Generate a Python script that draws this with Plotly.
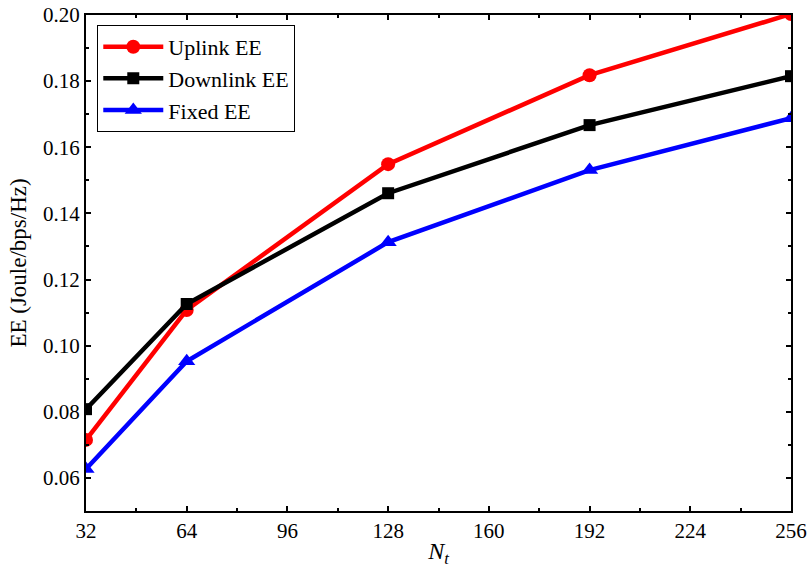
import plotly.graph_objects as go

nt = [32, 64, 128, 192, 256]
uplink = [0.0715, 0.1108, 0.1549, 0.1818, 0.2003]
downlink = [0.0808, 0.1126, 0.1461, 0.1667, 0.1815]
fixed = [0.0627, 0.0953, 0.1313, 0.1531, 0.1688]
x_ticks = [32, 64, 96, 128, 160, 192, 224, 256]
y_ticks = [0.06, 0.08, 0.10, 0.12, 0.14, 0.16, 0.18, 0.20]

FONT = "Liberation Serif"

fig = go.Figure()
fig.add_trace(go.Scatter(x=nt, y=uplink, name="Uplink EE", mode="lines+markers",
                         line=dict(color="#ff0000", width=4.5),
                         marker=dict(symbol="circle", size=14, color="#ff0000")))
fig.add_trace(go.Scatter(x=nt, y=downlink, name="Downlink EE", mode="lines+markers",
                         line=dict(color="#000000", width=4.5),
                         marker=dict(symbol="square", size=12, color="#000000")))
fig.add_trace(go.Scatter(x=nt, y=fixed, name="Fixed EE", mode="lines+markers",
                         line=dict(color="#0000ff", width=4.5),
                         marker=dict(symbol="triangle-up", size=15, color="#0000ff")))

fig.update_layout(
    width=807, height=568,
    margin=dict(l=86, r=16, t=15, b=57),
    paper_bgcolor="white", plot_bgcolor="white",
    font=dict(family=FONT, size=21, color="black"),
    showlegend=True,
    legend=dict(x=0.016, y=0.98, xanchor="left", yanchor="top",
                bordercolor="black", borderwidth=1, bgcolor="white",
                font=dict(family=FONT, size=22), itemwidth=60,
                tracegroupgap=0),
)
fig.update_xaxes(
    range=[32, 256], tickvals=x_ticks, ticktext=[str(v) for v in x_ticks],
    showline=True, linecolor="black", linewidth=2, mirror="ticks",
    ticks="inside", ticklen=5, tickwidth=1.5, tickcolor="black",
    minor=dict(dtick=16, tick0=32, ticks="inside", ticklen=3, tickcolor="black", tickwidth=1.5),
    showgrid=False, zeroline=False, automargin=False,
    title=dict(text="<i>N</i><sub><i>t</i></sub>", font=dict(family=FONT, size=24), standoff=4),
)
fig.update_yaxes(
    range=[0.05, 0.20], tickvals=y_ticks, ticktext=[f"{v:.2f}" for v in y_ticks],
    showline=True, linecolor="black", linewidth=2, mirror="ticks",
    ticks="inside", ticklen=5, tickwidth=1.5, tickcolor="black",
    minor=dict(dtick=0.01, tick0=0.05, ticks="inside", ticklen=3, tickcolor="black", tickwidth=1.5),
    showgrid=False, zeroline=False, automargin=False,
    title=dict(text="EE (Joule/bps/Hz)", font=dict(family=FONT, size=23), standoff=10),
)

fig.write_html("out.html")
